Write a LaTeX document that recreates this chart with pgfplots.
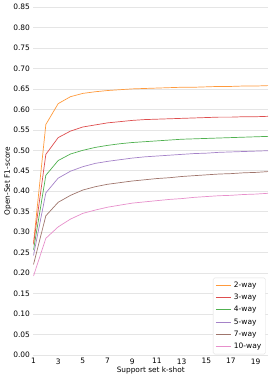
\documentclass[border=0pt]{standalone}
\usepackage{pgfplots}
\pgfplotsset{compat=1.18}
\usepackage{fontspec}
\setmainfont{DejaVu Sans}
\definecolor{c2}{HTML}{FF9A3C}
\definecolor{c3}{HTML}{DE4E4F}
\definecolor{c4}{HTML}{50B150}
\definecolor{c5}{HTML}{A582C8}
\definecolor{c7}{HTML}{9F756C}
\definecolor{c10}{HTML}{E78FCB}
\begin{document}
\begin{tikzpicture}
\begin{axis}[
  name=ax,
  scale only axis,
  width=234.5bp, height=348bp,
  xmin=1, xmax=20, ymin=0, ymax=0.85,
  axis line style={draw=none},
  tick style={draw=none},
  xtick={1,3,5,7,9,11,13,15,17,19},
  ytick={0,0.05,...,0.851},
  ymajorgrids,
  grid style={gray!20, line width=0.6pt},
  font=\fontsize{7.4}{8.5}\selectfont,
  ticklabel style={font=\fontsize{7.5}{8.5}\selectfont},
  /pgf/number format/assume math mode=true,
  yticklabel style={/pgf/number format/.cd, fixed, fixed zerofill, precision=2},
  xlabel={Support set k-shot},
  ylabel={Open-Set F1-score},
  xlabel style={yshift=4pt},
  ylabel style={yshift=-5pt},
  every axis plot/.append style={line width=0.7pt},
  legend style={at={(rel axis cs:0.99,0.002)}, anchor=south east, draw=gray!25, rounded corners=1.5pt, font=\fontsize{7.5}{9}\selectfont, row sep=1.2pt, inner sep=2.2pt},
  legend cell align=left,
  legend image code/.code={\draw[#1, line width=1pt] (0cm,0cm) -- (0.55cm,0cm);},
]
\addplot[c2] coordinates {(1,0.273) (2,0.563) (3,0.614) (4,0.631) (5,0.639) (6,0.643) (7,0.646) (8,0.648) (9,0.650) (10,0.651) (11,0.652) (12,0.653) (13,0.654) (14,0.654) (15,0.655) (16,0.656) (17,0.656) (18,0.657) (19,0.657) (20,0.658)};
\addlegendentry{2-way}
\addplot[c3] coordinates {(1,0.270) (2,0.490) (3,0.531) (4,0.547) (5,0.557) (6,0.562) (7,0.567) (8,0.570) (9,0.573) (10,0.575) (11,0.576) (12,0.577) (13,0.578) (14,0.579) (15,0.580) (16,0.581) (17,0.581) (18,0.582) (19,0.582) (20,0.583)};
\addlegendentry{3-way}
\addplot[c4] coordinates {(1,0.256) (2,0.439) (3,0.475) (4,0.491) (5,0.500) (6,0.507) (7,0.512) (8,0.516) (9,0.519) (10,0.521) (11,0.523) (12,0.525) (13,0.527) (14,0.528) (15,0.529) (16,0.530) (17,0.531) (18,0.532) (19,0.533) (20,0.534)};
\addlegendentry{4-way}
\addplot[c5] coordinates {(1,0.243) (2,0.396) (3,0.432) (4,0.449) (5,0.460) (6,0.468) (7,0.473) (8,0.477) (9,0.481) (10,0.484) (11,0.486) (12,0.488) (13,0.490) (14,0.492) (15,0.493) (16,0.495) (17,0.496) (18,0.497) (19,0.498) (20,0.499)};
\addlegendentry{5-way}
\addplot[c7] coordinates {(1,0.221) (2,0.340) (3,0.373) (4,0.390) (5,0.403) (6,0.411) (7,0.417) (8,0.421) (9,0.425) (10,0.428) (11,0.431) (12,0.433) (13,0.436) (14,0.438) (15,0.440) (16,0.442) (17,0.443) (18,0.445) (19,0.446) (20,0.448)};
\addlegendentry{7-way}
\addplot[c10] coordinates {(1,0.193) (2,0.285) (3,0.313) (4,0.332) (5,0.346) (6,0.354) (7,0.361) (8,0.366) (9,0.371) (10,0.374) (11,0.377) (12,0.380) (13,0.382) (14,0.385) (15,0.387) (16,0.389) (17,0.390) (18,0.392) (19,0.393) (20,0.395)};
\addlegendentry{10-way}
\end{axis}
\pgfresetboundingbox
\path[use as bounding box] (-33.5bp,-27bp) rectangle (239.5bp,355bp);
\end{tikzpicture}
\end{document}
